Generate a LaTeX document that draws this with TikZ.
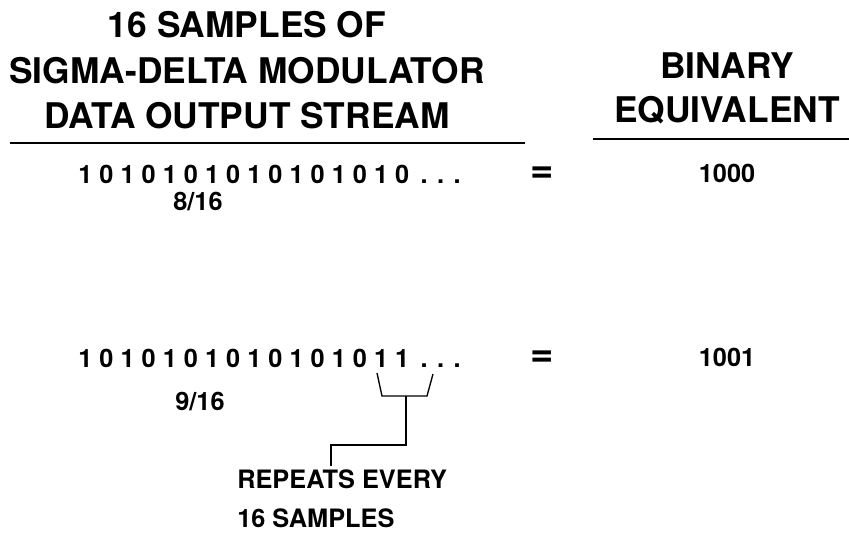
\documentclass[tikz,border=0pt]{standalone}
\usepackage{fontspec}
\setmainfont{TeX Gyre Heros}
\usetikzlibrary{calc}

\begin{document}
\begin{tikzpicture}[x=0.75pt,y=-0.75pt,
  head/.style={font=\fontsize{26.5}{26.5}\selectfont\bfseries, inner sep=0pt, anchor=base},
  txt/.style={font=\fontsize{19}{19}\selectfont\bfseries, inner sep=0pt, anchor=base},
  rule/.style={line width=1.1pt}]
\useasboundingbox (0,0) rectangle (849,533);

% column heads
\node[head] (smp) at (247,37) {16 SAMPLES OF};
\node[head] (sdm) at (247,83) {SIGMA-DELTA MODULATOR};
\node[head] (dos) at (247,128) {DATA OUTPUT STREAM};
\node[head] (bin) at (727,78) {BINARY};
\node[head] (equ) at (727,122) {EQUIVALENT};
\draw[rule] (10,143) -- (525,143);
\draw[rule] (593,139) -- (849,139);

% first stream
\node[txt, anchor=base west] (str1) at (78,183) {1 0 1 0 1 0 1 0 1 0 1 0 1 0 1 0\hspace{8.6pt}. . .};
\node[txt] (frc1) at (198,210) {8/16};
\node[font=\fontsize{30}{30}\selectfont\bfseries, inner sep=0pt] (eq1) at (542,175) {=};
\node[txt] (out1) at (727,182) {1000};

% second stream
\node[txt, anchor=base west] (str2) at (78,367) {1 0 1 0 1 0 1 0 1 0 1 0 1 0 1 1\hspace{8.6pt}. . .};
\node[txt] (frc2) at (200,410) {9/16};
\node[font=\fontsize{30}{30}\selectfont\bfseries, inner sep=0pt] (eq2) at (542,359) {=};
\node[txt] (out2) at (727,366) {1001};

% bracket under the last two bits
\node[txt, anchor=base west] (rep1) at (237,488) {REPEATS EVERY};
\node[txt, anchor=base west] (rep2) at (237,527) {16 SAMPLES};
\coordinate (bl) at (377,373);
\coordinate (br) at (433,374);
\coordinate (bm) at (406,396);
\coordinate (knee) at (331,445);
\draw[rule, line width=1pt] (bl) -- (382,396) -- (427,396) -- (br);
\draw[rule, line width=1pt] (bm) |- (knee) -- ([yshift=2pt]knee |- rep1.north);

\end{tikzpicture}
\end{document}
